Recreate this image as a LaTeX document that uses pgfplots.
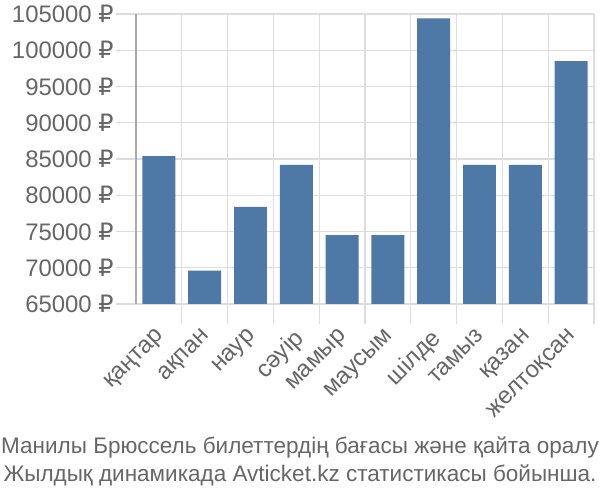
\documentclass[border=0pt]{standalone}
\usepackage{pgfplots}
\pgfplotsset{compat=1.18}
\usepackage{fontspec}
\setmainfont{Liberation Sans}
\newfontfamily\dejavu{DejaVu Sans}
\newcommand{\rub}{{\dejavu ₽}}
\definecolor{barc}{RGB}{78,121,167}
\definecolor{txt}{RGB}{102,102,102}
\definecolor{grd}{RGB}{221,221,221}
\definecolor{axl}{RGB}{170,170,170}
\begin{document}
\begin{tikzpicture}
\path[use as bounding box] (0,0) rectangle (300bp,250bp);
\begin{axis}[
  at={(68bp,98bp)}, anchor=south west,
  scale only axis, width=229bp, height=145bp,
  ymin=65000, ymax=105000,
  xmin=-0.5, xmax=9.5,
  scaled y ticks=false, scaled x ticks=false,
  axis line style={draw=none},
  tick pos=left, tick align=outside,
  ytick={65000,70000,...,105000},
  yticklabels={65000 \rub,70000 \rub,75000 \rub,80000 \rub,85000 \rub,90000 \rub,95000 \rub,100000 \rub,105000 \rub},
  xtick={0,...,9},
  xticklabels={қаңтар,ақпан,наур,сәуір,мамыр,маусым,шілде,тамыз,қазан,желтоқсан},
  minor xtick={0.5,1.5,...,8.5,9.5},
  extra x ticks={-0.5}, extra x tick labels={},
  extra x tick style={grid=major, major grid style={color=axl, line width=0.6pt}, major tick length=10bp, tick style={color=axl, line width=0.6pt}},
  ymajorgrids, xminorgrids,
  grid style={color=grd, line width=0.6pt},
  major y tick style={color=grd, line width=0.6pt},
  major tick length=10bp, minor tick length=10bp,
  x tick style={color=grd, line width=0.6pt},
  major x tick style={draw=none},
  tick label style={font=\fontsize{12}{14}\selectfont, text=txt},
  yticklabel style={inner sep=1bp},
  xticklabel style={rotate=45, anchor=north east, inner sep=1bp, xshift=-1.4bp, yshift=1.4bp},
  ybar, bar width=0.72,
]
\addplot[fill=barc, draw=none] coordinates {
(0,85400) (1,69600) (2,78400) (3,84200) (4,74500) (5,74500) (6,104400) (7,84200) (8,84200) (9,98500)};
\end{axis}
\node[text=txt, font=\fontsize{11.3}{14}\selectfont] at (150bp,26.5bp) {Манилы Брюссель билеттердің бағасы және қайта оралу};
\node[text=txt, font=\fontsize{11.3}{14}\selectfont] at (150bp,12.5bp) {Жылдық динамикада Avticket.kz статистикасы бойынша.};
\end{tikzpicture}
\end{document}
